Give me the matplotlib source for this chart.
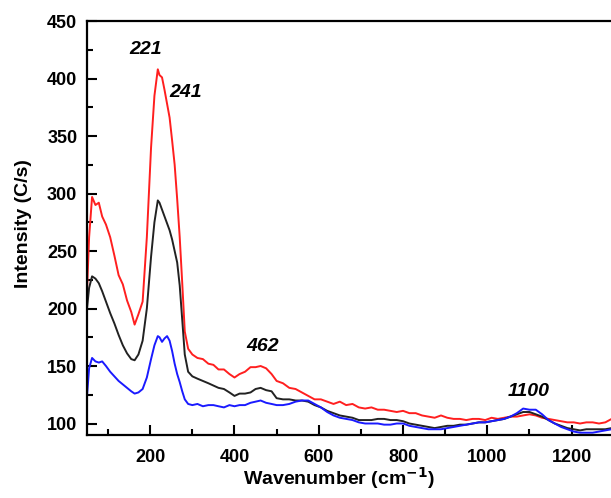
import numpy as np
import matplotlib.pyplot as plt
from matplotlib.ticker import MultipleLocator

# Raman spectra
wavenumber = [50, 55, 62, 70, 78, 86, 95, 105, 115, 125,
              135, 145, 155, 163, 172, 182, 192, 202, 210, 218,
              222, 228, 234, 240, 246, 252, 258, 264, 270, 276,
              282, 290, 300, 312, 325, 338, 350, 362, 375, 388,
              400, 412, 425, 438, 450, 462, 475, 488, 500, 515,
              530, 545, 560, 575, 590, 605, 620, 635, 650, 665,
              680, 695, 710, 725, 740, 755, 770, 785, 800, 815,
              830, 845, 860, 875, 890, 905, 920, 935, 950, 965,
              980, 995, 1010, 1025, 1040, 1055, 1070, 1085, 1100, 1115,
              1130, 1145, 1160, 1175, 1190, 1205, 1220, 1235, 1250, 1265,
              1280, 1295, 1310]

red = [215, 262, 297, 290, 292, 280, 273, 262, 246, 229,
       221, 207, 197, 186, 195, 206, 262, 340, 385, 408,
       403, 401, 390, 378, 366, 346, 325, 295, 262, 222,
       180, 165, 160, 157, 156, 152, 151, 147, 147, 143,
       140, 143, 145, 149, 149, 150, 148, 143, 137, 135,
       131, 130, 127, 124, 121, 121, 119, 117, 119, 116,
       117, 114, 113, 114, 112, 112, 111, 110, 111, 109,
       109, 107, 106, 105, 107, 105, 104, 104, 103, 104,
       104, 103, 105, 104, 105, 106, 106, 107, 108, 107,
       105, 104, 103, 102, 101, 101, 100, 101, 101, 100,
       101, 104, 105]

black = [200, 218, 228, 226, 222, 215, 206, 196, 187, 177,
         168, 161, 156, 155, 160, 172, 200, 245, 275, 294,
         292, 286, 280, 274, 268, 260, 250, 240, 220, 190,
         160, 145, 141, 139, 137, 135, 133, 131, 130, 127,
         124, 126, 126, 127, 130, 131, 129, 128, 122, 121,
         121, 120, 120, 119, 116, 114, 111, 109, 107, 106,
         105, 103, 103, 103, 104, 104, 103, 103, 102, 100,
         99, 98, 97, 96, 97, 98, 98, 99, 99, 100,
         101, 101, 102, 103, 104, 106, 108, 110, 110, 108,
         106, 103, 100, 98, 96, 95, 94, 95, 95, 95,
         95, 96, 96]

blue = [124, 148, 157, 154, 153, 154, 150, 145, 141, 137,
        134, 131, 128, 126, 127, 130, 140, 156, 168, 176,
        175, 171, 174, 176, 172, 163, 152, 143, 136, 128,
        121, 117, 116, 117, 115, 116, 116, 115, 114, 116,
        115, 116, 116, 118, 119, 120, 118, 117, 116, 116,
        117, 119, 120, 120, 117, 114, 110, 107, 105, 104,
        103, 101, 100, 100, 100, 99, 99, 100, 100, 98,
        97, 96, 95, 95, 95, 96, 97, 98, 99, 100,
        101, 101, 102, 103, 104, 106, 109, 113, 112, 112,
        108, 103, 100, 97, 95, 93, 92, 92, 92, 93,
        94, 95, 95]

plt.rcParams['font.family'] = ['Liberation Sans', 'DejaVu Sans']
plt.rcParams['font.weight'] = 'bold'

fig = plt.figure(figsize=(6.11, 4.98), dpi=100)
# right edge of the axes runs past the figure, as in the cropped original
ax = fig.add_axes([0.1424, 0.1265, 0.869, 0.8313])

ax.plot(wavenumber, red, color='#ff1f1f', lw=1.4)
ax.plot(wavenumber, black, color='#222222', lw=1.4)
ax.plot(wavenumber, blue, color='#1a1aff', lw=1.4)

ax.set_xlim(50, 1310)
ax.set_ylim(90, 450)
ax.xaxis.set_major_locator(MultipleLocator(200))
ax.xaxis.set_minor_locator(MultipleLocator(100))
ax.yaxis.set_major_locator(MultipleLocator(50))
ax.yaxis.set_minor_locator(MultipleLocator(25))
ax.tick_params(which='both', direction='in', width=1.5, labelsize=13)
ax.tick_params(which='major', length=7)
ax.tick_params(which='minor', length=4)
ax.tick_params(axis='x', pad=10)
ax.tick_params(axis='y', pad=7)
for s in ax.spines.values():
    s.set_linewidth(1.6)

ax.set_xlabel('Wavenumber (cm$^{\\mathbf{-1}}$)', fontsize=14, fontweight='bold')
ax.set_ylabel('Intensity (C/s)', fontsize=14, fontweight='bold')
ax.xaxis.set_label_coords(0.4746, -0.072)
ax.yaxis.set_label_coords(-0.104, 0.51)

for txt, xx, yy in [('221', 188, 425), ('241', 283, 388), ('462', 467, 167), ('1100', 1098, 128)]:
    ax.text(xx, yy, txt, fontsize=14, fontweight='bold', fontstyle='italic',
            ha='center', va='center')

fig.savefig('out.png', dpi=100)
